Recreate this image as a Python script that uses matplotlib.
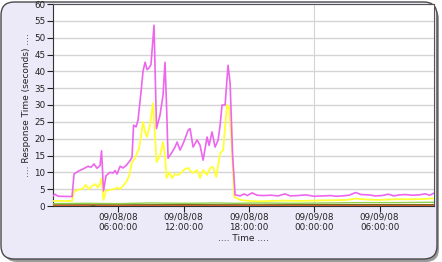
import matplotlib
matplotlib.use("Agg")
import matplotlib.pyplot as plt
from matplotlib.patches import FancyBboxPatch

# ---- data (hours since 09/08/08 00:00:00) ----
mag_t = [0.0, 0.18, 0.46, 1.75, 1.93, 2.30, 2.76, 3.22, 3.49, 3.77, 4.04, 4.32, 4.46, 4.64,
         4.87, 5.24, 5.51, 5.70, 5.88, 6.16, 6.43, 6.71, 7.08, 7.26, 7.40, 7.63, 7.81, 8.09,
         8.27, 8.46, 8.64, 8.82, 9.00, 9.28, 9.51, 9.83, 10.11, 10.29, 10.43, 10.57, 10.94,
         11.21, 11.40, 11.67, 11.95, 12.13, 12.41, 12.59, 12.87, 13.24, 13.51, 13.79, 14.15,
         14.34, 14.61, 14.89, 15.17, 15.35, 15.53, 15.81, 16.08, 16.27, 16.50, 16.73, 17.19,
         17.56, 17.83, 18.29, 18.75, 19.3, 20.0, 20.7, 21.3, 21.8, 22.5, 23.2, 24.0, 24.8,
         25.5, 26.0, 26.6, 27.2, 27.8, 28.3, 29.0, 29.6, 30.2, 30.8, 31.3, 31.8, 32.4, 33.0,
         33.6, 34.2, 34.6, 35.0]
mag_v = [3.0, 3.5, 2.9, 2.8, 9.5, 10.3, 11.0, 11.8, 11.5, 12.5, 11.2, 12.0, 16.4, 4.5,
         9.0, 10.0, 9.8, 10.5, 9.5, 11.8, 11.3, 12.0, 13.5, 14.5, 24.0, 23.5, 25.5, 34.0,
         40.0, 42.7, 40.5, 41.0, 42.0, 53.7, 23.0, 27.0, 33.0, 42.7, 30.0, 14.2, 16.0,
         17.5, 19.0, 16.6, 18.5, 20.0, 22.5, 23.0, 17.5, 19.6, 18.0, 13.6, 20.5,
         18.0, 22.0, 17.5, 19.6, 24.0, 30.0, 30.0, 41.8, 36.5, 15.0, 3.3, 3.0,
         3.6, 3.1, 3.9, 3.2, 3.1, 3.2, 3.0, 3.6, 3.0, 3.1, 3.3, 2.9, 3.0,
         3.1, 2.9, 3.0, 3.2, 4.0, 3.4, 3.3, 3.0, 3.1, 3.5, 3.0, 3.3, 3.4, 3.2,
         3.3, 3.6, 3.2, 3.8]

yel_t = [0.0, 1.75, 1.93, 2.30, 2.76, 3.00, 3.30, 3.60, 3.90, 4.10, 4.32, 4.46, 4.64, 4.87,
         5.24, 5.60, 5.90, 6.16, 6.43, 6.71, 7.00, 7.26, 7.53, 7.90, 8.10, 8.27, 8.46, 8.64,
         8.90, 9.19, 9.51, 9.83, 10.11, 10.29, 10.43, 10.70, 10.94, 11.20, 11.50, 11.80,
         12.13, 12.41, 12.70, 12.87, 13.24, 13.51, 13.79, 14.15, 14.43, 14.70, 15.00, 15.35,
         15.63, 15.99, 16.18, 16.45, 16.64, 17.19, 18.0, 19.0, 20.0, 21.3, 22.5, 24.0, 25.5,
         27.0, 27.8, 29.0, 30.0, 31.5, 33.0, 34.2, 35.0]
yel_v = [1.5, 1.5, 4.3, 4.8, 5.2, 6.3, 5.0, 6.0, 6.5, 5.5, 6.5, 8.3, 1.8, 4.5,
         4.8, 5.0, 5.5, 5.0, 6.0, 7.0, 9.0, 13.0, 14.2, 17.0, 21.0, 25.0, 22.0, 20.5,
         24.0, 30.5, 13.0, 15.0, 19.0, 15.0, 8.3, 10.0, 8.3, 9.5, 9.2, 10.0,
         11.0, 11.3, 10.2, 9.8, 10.7, 8.3, 10.7, 9.2, 11.3, 11.6, 8.6, 15.7,
         16.6, 30.0, 29.4, 16.0, 2.7, 1.8, 1.5, 1.4, 1.5, 1.6, 1.5, 1.6, 1.7,
         1.8, 2.2, 1.9, 1.8, 2.0, 2.0, 2.1, 2.3]

grn_t = [0.0, 3.0, 6.0, 9.0, 12.0, 15.0, 16.7, 19.0, 22.0, 25.0, 28.0, 31.0, 35.0]
grn_v = [0.7, 0.8, 0.7, 0.9, 0.8, 0.9, 0.8, 0.9, 0.8, 0.9, 1.0, 1.0, 1.1]

olv_t = [0.0, 6.0, 12.0, 18.0, 24.0, 30.0, 35.0]
olv_v = [0.25, 0.25, 0.3, 0.25, 0.3, 0.3, 0.3]

red_t = [0.0, 3.4, 3.7, 4.0, 12.0, 24.0, 35.0]
red_v = [0.2, 0.2, 0.6, 0.2, 0.2, 0.2, 0.2]

xticks = [6, 12, 18, 24, 30]
xticklabels = ["09/08/08\n06:00:00", "09/08/08\n12:00:00", "09/08/08\n18:00:00",
               "09/09/08\n00:00:00", "09/09/08\n06:00:00"]
yticks = list(range(0, 61, 5))

# ---- figure ----
W, H = 442, 262
fig = plt.figure(figsize=(W / 100, H / 100), dpi=100)
fig.patch.set_facecolor("white")

# frame with shadow
shadow = FancyBboxPatch((4 / W, 0 / H), 435 / W, 256 / H,
                        boxstyle="round,pad=0,rounding_size=0.03",
                        transform=fig.transFigure, facecolor="#9a9a9a",
                        edgecolor="none", zorder=0, mutation_aspect=W / H)
fig.patches.append(shadow)
frame = FancyBboxPatch((1 / W, 3 / H), 436 / W, 257 / H,
                       boxstyle="round,pad=0,rounding_size=0.03",
                       transform=fig.transFigure, facecolor="#eceaf8",
                       edgecolor="#4a4a4a", linewidth=1.0, zorder=1,
                       mutation_aspect=W / H)
fig.patches.append(frame)

ax = fig.add_axes([53 / W, 1 - 206 / H, (434 - 53) / W, (206 - 4) / H])
ax.set_facecolor("white")
ax.set_zorder(2)

ax.plot(olv_t, olv_v, color="#5b6a1a", lw=1.4, zorder=3)
ax.plot(red_t, red_v, color="#e06030", lw=0.8, zorder=3)
ax.plot(grn_t, grn_v, color="#8fd04a", lw=1.0, zorder=3)
ax.plot(yel_t, yel_v, color="#ffff33", lw=1.3, zorder=4)
ax.plot(mag_t, mag_v, color="#ee66ee", lw=1.2, zorder=5)

ax.set_xlim(0, 35.0)
ax.set_ylim(0, 60)
ax.set_yticks(yticks)
ax.set_xticks(xticks)
ax.set_xticklabels(xticklabels)
ax.yaxis.grid(True, color="#d4d4d4", lw=1.0)
ax.axvline(24, color="#d4d4d4", lw=0.8, zorder=1)
ax.set_axisbelow(True)

for s in ["top", "right"]:
    ax.spines[s].set_color("#555555")
    ax.spines[s].set_linewidth(0.8)
ax.spines["left"].set_color("#333333")
ax.spines["bottom"].set_color("#333333")

ax.tick_params(axis="both", labelsize=6.3, colors="#222222", length=4, width=0.8,
               direction="out", pad=1.5)
ax.tick_params(axis="x", pad=1)
for lbl in ax.get_xticklabels():
    lbl.set_linespacing(1.2)

ax.set_xlabel(".... Time ....", fontsize=6.5, color="#222222", labelpad=1)
ax.set_ylabel(".... Response Time (seconds) ....", fontsize=6.5, color="#222222",
              labelpad=2)

fig.savefig("out.png", dpi=100, facecolor=fig.get_facecolor())
